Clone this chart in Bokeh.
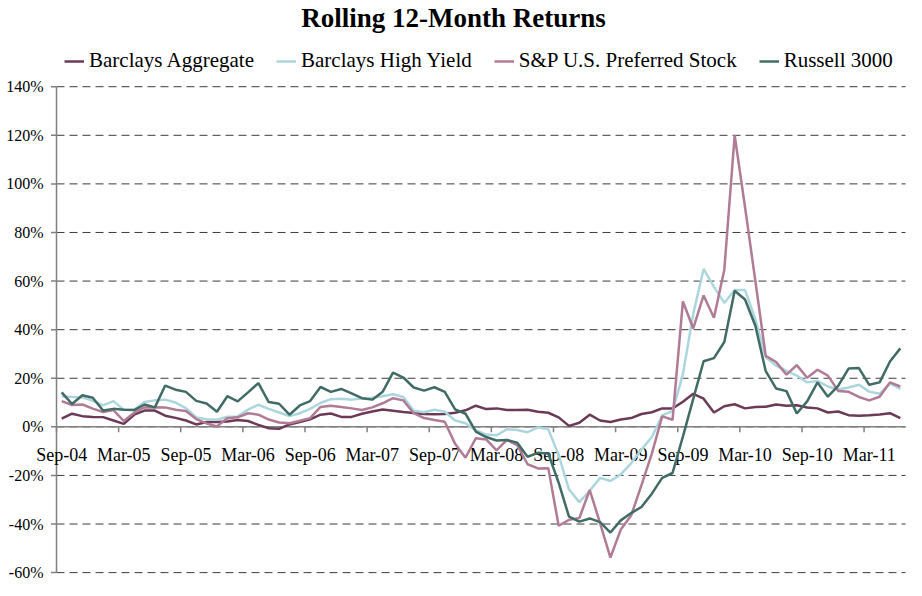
import pandas as pd
from bokeh.plotting import figure
from bokeh.models import Range1d, Legend, LegendItem, ColumnDataSource
from bokeh.core.properties import value
from bokeh.embed import file_html
from bokeh.resources import INLINE

# ---------------- data (rolling 12-month returns, %) ----------------
start_month = "2004-09"
label_every = 6

barclays_aggregate = [
    3.4, 5.4, 4.4, 4.1, 4.0, 2.6, 1.2, 5.0, 6.7, 6.7, 4.6, 3.7, 2.6, 1.0, 2.0, 2.0,
    2.2, 2.8, 2.4, 0.8, -0.6, -0.8, 1.0, 2.0, 3.1, 5.0, 5.5, 4.1, 4.1, 5.4, 6.3, 7.1,
    6.6, 6.1, 5.7, 5.3, 5.2, 5.3, 5.8, 6.8, 8.7, 7.3, 7.6, 6.9, 6.9, 7.0, 6.2, 5.8,
    3.9, 0.4, 1.7, 5.0, 2.6, 2.0, 3.0, 3.6, 5.3, 6.0, 7.6, 7.6, 10.3, 13.6, 11.6, 5.9,
    8.5, 9.3, 7.6, 8.2, 8.3, 9.2, 8.7, 8.9, 8.0, 7.6, 5.9, 6.3, 4.8, 4.6, 4.8, 5.1,
    5.6, 3.6,
]
barclays_high_yield = [
    12.6, 12.3, 12.2, 10.7, 8.8, 10.6, 7.0, 7.0, 10.2, 10.9, 11.2, 10.0, 7.7, 3.9, 3.1, 2.9,
    4.2, 4.3, 7.1, 9.1, 7.4, 5.9, 4.4, 5.6, 7.4, 9.8, 11.4, 11.6, 11.2, 11.7, 12.0, 12.6,
    13.4, 12.3, 6.6, 6.0, 7.0, 6.2, 2.6, 1.5, -1.4, -3.2, -3.5, -1.0, -1.3, -2.2, -0.2, -1.0,
    -11.6, -25.8, -31.0, -26.3, -21.0, -22.3, -19.6, -15.0, -9.3, -4.2, 4.7, 6.5, 21.6, 46.5,
    65.0, 57.6, 51.0, 56.3, 56.3, 44.3, 28.6, 25.2, 23.0, 21.1, 18.3, 18.9, 16.6, 15.4,
    16.2, 17.3, 14.5, 13.6, 17.9, 15.6,
]
sp_preferred = [
    10.6, 9.0, 9.2, 7.5, 6.1, 6.9, 2.4, 5.8, 8.0, 8.1, 8.0, 7.0, 6.5, 3.2, 1.4, 0.2,
    3.5, 3.9, 5.6, 5.0, 3.0, 1.8, 1.5, 2.5, 3.6, 8.2, 8.7, 8.2, 7.6, 6.9, 8.0, 9.7,
    11.8, 10.9, 5.6, 3.6, 2.8, 2.1, -7.0, -12.7, -4.7, -5.2, -9.7, -5.4, -7.5, -15.4, -17.1, -17.0,
    -40.7, -38.3, -37.5, -26.0, -39.6, -53.8, -42.3, -36.5, -24.0, -11.0, 4.3, 2.9, 51.6, 40.5,
    54.1, 44.9, 64.7, 120.0, 90.5, 60.0, 29.2, 26.7, 21.5, 25.4, 20.2, 23.5, 21.1, 14.8,
    14.4, 12.3, 10.9, 12.4, 18.3, 16.6,
]
russell_3000 = [
    14.2, 9.4, 13.0, 12.0, 6.7, 7.4, 7.0, 6.9, 9.2, 8.0, 17.0, 15.3, 14.4, 10.7, 9.6, 6.2,
    12.6, 10.5, 14.2, 18.0, 10.2, 9.5, 5.0, 8.8, 10.6, 16.4, 14.4, 15.6, 13.8, 11.8, 11.2, 14.4,
    22.3, 20.3, 16.2, 14.9, 16.3, 14.4, 7.2, 5.4, -2.0, -4.2, -5.6, -5.4, -6.5, -12.3, -10.7, -11.0,
    -23.0, -37.0, -39.0, -37.7, -39.2, -43.5, -38.5, -35.5, -33.0, -27.5, -21.0, -19.0, -4.0, 11.5,
    27.0, 28.3, 34.9, 56.0, 52.4, 41.6, 22.9, 15.8, 14.7, 5.5, 10.5, 18.3, 12.4, 16.9,
    24.0, 24.2, 17.3, 18.3, 26.9, 32.3,
]

series_names = ["Barclays Aggregate", "Barclays High Yield",
                "S&P U.S. Preferred Stock", "Russell 3000"]
series_colors = ["#6b3a56", "#acd6de", "#b07b95", "#416b65"]
y_ticks = [-60, -40, -20, 0, 20, 40, 60, 80, 100, 120, 140]

# ---------------- layout constants (pixels, figure coordinates) ----------------
FIG_W, FIG_H = 906, 580
TITLE_PANEL_PX = 24
AXIS_LEFT_PX = 56        # where the value axis sits
PLOT_RIGHT_PX = 905      # right end of the category axis
TOP_TICK_PX = 79         # y position of the top gridline
BOTTOM_TICK_PX = 572     # y position of the bottom gridline
TICK_LEN_PX = 5.5
AXIS_GREY = "#808080"
SERIF = "Liberation Serif"

# ---------------- derived ----------------
n = len(barclays_aggregate)
months = pd.date_range(start_month, periods=n, freq="MS").strftime("%b-%y").tolist()
idx = list(range(n))
src = ColumnDataSource(dict(idx=idx, agg=barclays_aggregate, hy=barclays_high_yield,
                            pref=sp_preferred, r3000=russell_3000))
tick_idx = idx[::label_every]
tick_labels = months[::label_every]
boundaries = [i - 0.5 for i in tick_idx]
x_lo, x_hi = -0.5, n - 0.5
y_lo, y_hi = y_ticks[0], y_ticks[-1]

sx = (PLOT_RIGHT_PX - AXIS_LEFT_PX) / (x_hi - x_lo)
sy = (BOTTOM_TICK_PX - TOP_TICK_PX) / (y_hi - y_lo)
x_start = x_lo - AXIS_LEFT_PX / sx
x_end = x_hi + (FIG_W - PLOT_RIGHT_PX) / sx
y_end = y_hi + (TOP_TICK_PX - TITLE_PANEL_PX) / sy
y_start = y_lo - (FIG_H - BOTTOM_TICK_PX) / sy
xtick = TICK_LEN_PX / sx
ytick = TICK_LEN_PX / sy

p = figure(width=FIG_W, height=FIG_H, output_backend="svg", toolbar_location=None,
           x_range=Range1d(x_start, x_end), y_range=Range1d(y_start, y_end),
           x_axis_location=None, y_axis_location=None,
           min_border_left=0, min_border_right=0, min_border_bottom=0, min_border_top=0,
           title="Rolling 12-Month Returns")
p.outline_line_color = None
p.background_fill_color = "white"
p.grid.visible = False

p.title.align = "center"
p.title.offset = 20
p.title.text_font = SERIF
p.title.text_font_size = "27px"
p.title.text_font_style = "bold"
p.title.text_color = "black"
p.title.standoff = 0

# dashed gridlines across the plotting area
p.segment(x0=[x_lo] * len(y_ticks), y0=y_ticks, x1=[x_hi] * len(y_ticks), y1=y_ticks,
          line_color="#3c3c3c", line_width=1, line_dash="8 5")

# value axis: line, ticks, labels
p.segment(x0=[x_lo], y0=[y_lo], x1=[x_lo], y1=[y_hi], line_color=AXIS_GREY, line_width=1.5)
p.segment(x0=[x_lo - xtick] * len(y_ticks), y0=y_ticks, x1=[x_lo] * len(y_ticks), y1=y_ticks,
          line_color=AXIS_GREY, line_width=1.5)
p.text(x=[x_lo] * len(y_ticks), y=y_ticks, text=[f"{t}%" for t in y_ticks],
       text_align="right", text_baseline="middle", x_offset=-13,
       text_font=value(SERIF), text_font_size="16px", text_color="black")

# category axis at y = 0
p.segment(x0=[x_lo], y0=[0], x1=[x_hi], y1=[0], line_color=AXIS_GREY, line_width=1.5)
p.segment(x0=boundaries, y0=[0] * len(boundaries), x1=boundaries, y1=[-ytick] * len(boundaries),
          line_color=AXIS_GREY, line_width=1.5)
p.text(x=tick_idx, y=[0] * len(tick_idx), text=tick_labels, text_align="center",
       text_baseline="top", y_offset=18, text_font=value(SERIF),
       text_font_size="18px", text_color="black")

renderers = []
for col, color in zip(["agg", "hy", "pref", "r3000"], series_colors):
    r = p.line("idx", col, source=src, line_color=color, line_width=2.5)
    renderers.append(r)

legend = Legend(items=[LegendItem(label=nm, renderers=[r]) for nm, r in zip(series_names, renderers)],
                orientation="horizontal", location=(64, 507))
legend.label_text_font = SERIF
legend.label_text_font_size = "21px"
legend.label_text_color = "black"
legend.glyph_width = 20
legend.label_standoff = 5
legend.spacing = 22
legend.padding = 0
legend.margin = 0
legend.border_line_color = None
legend.background_fill_alpha = 0
p.add_layout(legend)

open("out.html", "w").write(file_html(p, INLINE))
